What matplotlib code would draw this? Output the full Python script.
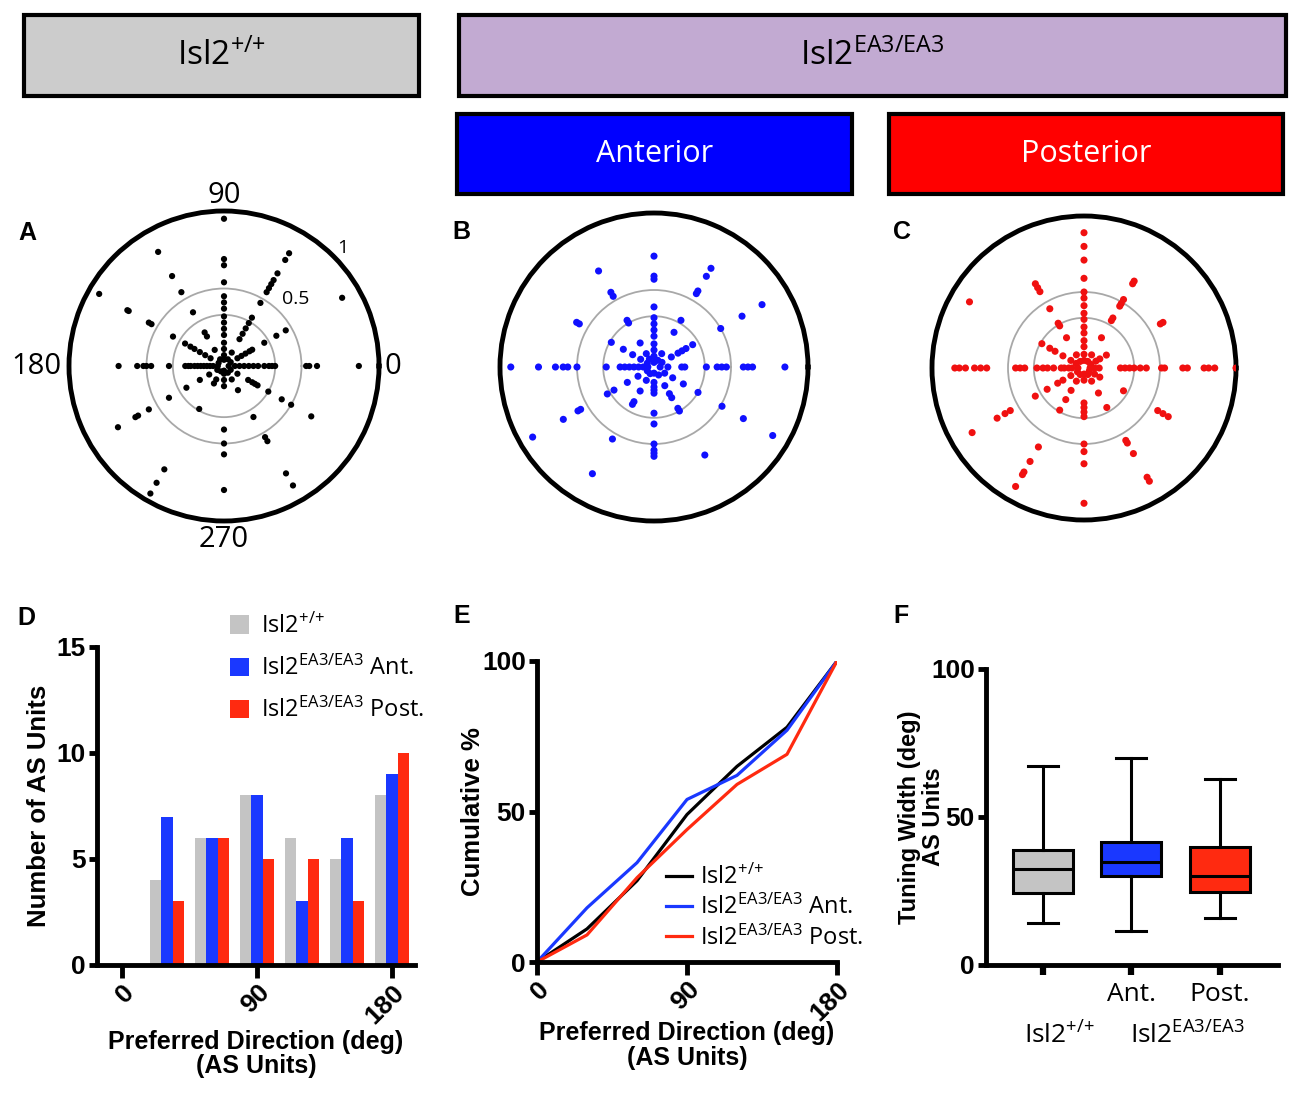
import numpy as np
import matplotlib
matplotlib.use('Agg')
from matplotlib import pyplot as plt  # noqa
from matplotlib.patches import Rectangle
import matplotlib.transforms as mtrans

W, H = 1300, 1097

GRAY = '#c4c4c4'
BLUE = '#1a38ff'
RED = '#ff2a10'

# polar plots: preferred direction (deg) -> normalised response radii
A_pts = {
    0: [0.03, 0.07, 0.1, 0.13, 0.16, 0.19, 0.22, 0.26, 0.29, 0.31, 0.33, 0.53, 0.55, 0.6, 0.87],
    30: [0.05, 0.1, 0.13, 0.16, 0.19, 0.21, 0.3, 0.39, 0.46, 0.88],
    60: [0.05, 0.1, 0.2, 0.24, 0.28, 0.32, 0.36, 0.47, 0.55, 0.58, 0.61, 0.64, 0.69, 0.79, 0.84],
    90: [0.04, 0.07, 0.11, 0.15, 0.2, 0.24, 0.28, 0.32, 0.37, 0.41, 0.45, 0.54, 0.65, 0.69, 0.95],
    120: [0.05, 0.12, 0.22, 0.25, 0.4, 0.55, 0.67, 0.85],
    150: [0.04, 0.1, 0.14, 0.18, 0.22, 0.25, 0.29, 0.38, 0.54, 0.56, 0.71, 0.72, 0.93],
    180: [0.04, 0.07, 0.09, 0.11, 0.13, 0.15, 0.17, 0.19, 0.215, 0.23, 0.25, 0.355, 0.47, 0.5, 0.52, 0.56, 0.68],
    210: [0.05, 0.11, 0.18, 0.28, 0.41, 0.56, 0.64, 0.66, 0.79],
    240: [0.04, 0.1, 0.13, 0.32, 0.77, 0.87, 0.95],
    270: [0.03, 0.05, 0.09, 0.13, 0.41, 0.5, 0.57, 0.8],
    300: [0.05, 0.1, 0.18, 0.38, 0.53, 0.56, 0.8, 0.89],
    330: [0.05, 0.1, 0.18, 0.21, 0.23, 0.25, 0.33, 0.43, 0.5, 0.65],
}
B_pts = {
    0: [0.04, 0.09, 0.18, 0.2, 0.34, 0.41, 0.44, 0.47, 0.58, 0.61, 0.64, 0.85],
    30: [0.06, 0.13, 0.18, 0.21, 0.24, 0.29, 0.5, 0.66, 0.81],
    60: [0.05, 0.1, 0.26, 0.35, 0.55, 0.57, 0.68, 0.74],
    90: [0.03, 0.07, 0.11, 0.15, 0.2, 0.24, 0.28, 0.32, 0.39, 0.57, 0.59, 0.72],
    120: [0.06, 0.1, 0.18, 0.33, 0.35, 0.53, 0.56, 0.72],
    150: [0.05, 0.1, 0.16, 0.23, 0.32, 0.56, 0.58],
    180: [0.04, 0.07, 0.1, 0.13, 0.16, 0.19, 0.22, 0.31, 0.5, 0.56, 0.59, 0.64, 0.75, 0.93],
    210: [0.05, 0.12, 0.2, 0.3, 0.35, 0.55, 0.57, 0.68, 0.91],
    240: [0.05, 0.1, 0.18, 0.26, 0.28, 0.54, 0.8],
    270: [0.04, 0.1, 0.13, 0.15, 0.17, 0.3, 0.37, 0.5, 0.54, 0.56, 0.58],
    300: [0.06, 0.14, 0.2, 0.23, 0.31, 0.33, 0.66],
    330: [0.08, 0.14, 0.22, 0.33, 0.51, 0.67, 0.89],
}
C_pts = {
    0: [0.04, 0.07, 0.1, 0.24, 0.27, 0.3, 0.33, 0.37, 0.41, 0.51, 0.53, 0.65, 0.68, 0.79, 0.82, 0.86, 1.0],
    30: [0.05, 0.09, 0.12, 0.17, 0.58, 0.6],
    60: [0.05, 0.1, 0.23, 0.36, 0.38, 0.47, 0.49, 0.52, 0.64, 0.66],
    90: [0.05, 0.09, 0.14, 0.18, 0.23, 0.27, 0.32, 0.36, 0.41, 0.46, 0.5, 0.59, 0.71, 0.8, 0.89],
    120: [0.05, 0.1, 0.23, 0.32, 0.34, 0.45, 0.58, 0.61, 0.64],
    150: [0.06, 0.1, 0.16, 0.22, 0.26, 0.32, 0.87],
    180: [0.04, 0.08, 0.1, 0.13, 0.15, 0.2, 0.24, 0.27, 0.31, 0.39, 0.42, 0.45, 0.64, 0.68, 0.72, 0.78, 0.82, 0.85],
    210: [0.05, 0.1, 0.16, 0.2, 0.28, 0.37, 0.56, 0.6, 0.66, 0.85],
    240: [0.05, 0.1, 0.17, 0.24, 0.32, 0.6, 0.71, 0.79, 0.81, 0.9],
    270: [0.04, 0.08, 0.23, 0.26, 0.29, 0.32, 0.5, 0.55, 0.63, 0.89],
    300: [0.05, 0.1, 0.19, 0.3, 0.55, 0.57, 0.65, 0.83, 0.86],
    330: [0.04, 0.08, 0.12, 0.3, 0.56, 0.6, 0.64],
}

# histogram (D)
DIRS = [30, 60, 90, 120, 150, 180]
wt_counts = [4, 6, 8, 6, 5, 8]
ant_counts = [7, 6, 8, 3, 6, 9]
post_counts = [3, 6, 5, 5, 3, 10]

# cumulative (E)
CUM_X = [0, 30, 60, 90, 120, 150, 180]
wt_cum = [0, 11, 27, 49, 65, 78, 100]
ant_cum = [0, 18, 33, 54, 62, 77, 100]
post_cum = [0, 9, 28, 44, 59, 69, 100]

# tuning width box plot (F)
F_whislo = [14.1, 11.5, 15.8]
F_q1 = [24.2, 30.1, 24.5]
F_med = [32.3, 34.9, 30.2]
F_q3 = [38.9, 41.4, 40.0]
F_whishi = [67.3, 69.8, 63.0]

WT_LAB = r'Isl2$^{{+}/{+}}$'
MUT_LAB = r'Isl2$^{EA3/EA3}$'

plt.rcParams['font.family'] = ['Liberation Sans', 'DejaVu Sans']
plt.rcParams['mathtext.fontset'] = 'custom'
plt.rcParams['mathtext.rm'] = 'Open Sans'
plt.rcParams['mathtext.it'] = 'Open Sans'
plt.rcParams['mathtext.default'] = 'regular'

SOFT = ['Open Sans', 'DejaVu Sans']

fig = plt.figure(figsize=(W / 100, H / 100), dpi=100)


def rect(x0, y0, x1, y1):
    return [x0 / W, 1 - y1 / H, (x1 - x0) / W, (y1 - y0) / H]


def header(x0, y0, x1, y1, fc, label, tc='black', size=24):
    fig.add_artist(Rectangle((x0 / W, 1 - y1 / H), (x1 - x0) / W, (y1 - y0) / H,
                             transform=fig.transFigure, fc=fc, ec='black', lw=3))
    fig.text((x0 + x1) / 2 / W, 1 - (y0 + y1) / 2 / H, label, color=tc,
             family=SOFT, fontsize=size, ha='center', va='center')


header(24, 15, 419, 96, '#cccccc', WT_LAB)
header(459, 15, 1286, 96, '#c2aad2', MUT_LAB)
header(457, 114, 852, 194, '#0000ff', 'Anterior', tc='white', size=22)
header(889, 114, 1283, 194, '#ff0000', 'Posterior', tc='white', size=22)

for lab, x, y in [('A', 18, 233), ('B', 452, 232), ('C', 893, 232),
                  ('D', 17, 618), ('E', 453, 616), ('F', 893, 616)]:
    fig.text(x / W, 1 - y / H, lab, fontsize=18, fontweight='bold', ha='left', va='center')


def polar(box, pts, color, size):
    ax = fig.add_axes(rect(*box), projection='polar')
    for ang, rs in pts.items():
        th = np.full(len(rs), np.deg2rad(ang))
        ax.scatter(th, rs, s=size, color=color, edgecolors='none', zorder=3)
    ax.set_ylim(0, 1)
    ax.set_xticks([])
    ax.set_yticks([0.33, 0.5])
    ax.set_yticklabels([])
    ax.yaxis.grid(True, color='#a8a8a8', lw=1.3)
    ax.spines['polar'].set_linewidth(3.5)
    return ax


axA = polar((69, 211, 379, 521), A_pts, 'black', 20)
polar((500, 213, 808, 521), B_pts, '#1010ff', 26)
polar((932, 216, 1236, 520), C_pts, '#f01010', 26)

for txt, ang, r, ha in [('90', 90, 1.1, 'center'), ('270', 270, 1.12, 'center'),
                        ('180', 180, 1.05, 'right'), ('0', 0, 1.035, 'left')]:
    axA.text(np.deg2rad(ang), r, txt, family=SOFT, fontsize=21, ha=ha, va='center',
             clip_on=False)
axA.text(np.deg2rad(45), 1.08, '1', family=SOFT, fontsize=14, ha='center', va='center',
         clip_on=False)
axA.text(np.deg2rad(43), 0.63, '0.5', family=SOFT, fontsize=14, ha='center', va='center')


def style_axes(ax):
    ax.spines[['top', 'right']].set_visible(False)
    for s in ('left', 'bottom'):
        ax.spines[s].set_linewidth(3.5)
    ax.tick_params(width=3.5, length=6, labelsize=19, pad=2)
    for t in ax.get_xticklabels() + ax.get_yticklabels():
        t.set_fontweight('bold')


# D histogram
axD = fig.add_axes(rect(97, 647, 415, 965))
bw = 7.5
x = np.array(DIRS)
axD.bar(x - bw, wt_counts, bw, color=GRAY, label=WT_LAB)
axD.bar(x, ant_counts, bw, color=BLUE, label=MUT_LAB + ' Ant.')
axD.bar(x + bw, post_counts, bw, color=RED, label=MUT_LAB + ' Post.')
axD.set_xlim(-16.7, 195.3)
axD.set_ylim(0, 15)
axD.set_yticks([0, 5, 10, 15])
axD.set_xticks([0, 90, 180])
style_axes(axD)
axD.tick_params(axis='x', length=9)
plt.setp(axD.get_xticklabels(), rotation=45, ha='right', va='top', rotation_mode='anchor')
axD.set_ylabel('Number of AS Units', fontsize=18.5, fontweight='bold', labelpad=4)
axD.set_xlabel('Preferred Direction (deg)\n(AS Units)', fontsize=18, fontweight='bold',
               labelpad=1, linespacing=1.0)
legD = axD.legend(loc='upper left', bbox_to_anchor=(0.39, 1.135), frameon=False,
                  prop={'family': SOFT, 'size': 17}, handlelength=0.8, handleheight=0.8,
                  handletextpad=0.5, labelspacing=0.72, borderaxespad=0)
for h in legD.legend_handles:
    h.set_edgecolor('none')

# E cumulative
axE = fig.add_axes(rect(537, 661, 837, 962))
axE.plot(CUM_X, wt_cum, color='black', lw=2.3, label=WT_LAB)
axE.plot(CUM_X, ant_cum, color=BLUE, lw=2.3, label=MUT_LAB + ' Ant.')
axE.plot(CUM_X, post_cum, color=RED, lw=2.3, label=MUT_LAB + ' Post.')
axE.set_xlim(0, 180)
axE.set_ylim(0, 100)
axE.set_xticks([0, 90, 180])
axE.set_yticks([0, 50, 100])
style_axes(axE)
axE.tick_params(axis='x', length=9)
plt.setp(axE.get_xticklabels(), rotation=45, ha='right', va='top', rotation_mode='anchor')
axE.set_ylabel('Cumulative %', fontsize=18.5, fontweight='bold', labelpad=-2)
axE.set_xlabel('Preferred Direction (deg)\n(AS Units)', fontsize=18, fontweight='bold',
               labelpad=-3, linespacing=1.05)
axE.legend(loc='upper left', bbox_to_anchor=(0.40, 0.355), frameon=False,
           prop={'family': SOFT, 'size': 17}, handlelength=1.1, handletextpad=0.3,
           labelspacing=0.22, borderaxespad=0)

# F box plot
axF = fig.add_axes(rect(986, 669, 1278, 965))
stats = []
for i in range(3):
    stats.append({'whislo': F_whislo[i], 'q1': F_q1[i], 'med': F_med[i],
                  'q3': F_q3[i], 'whishi': F_whishi[i], 'fliers': []})
bp = axF.bxp(stats, positions=[0, 1, 2], widths=0.68, capwidths=0.34,
             patch_artist=True, showfliers=False,
             boxprops=dict(lw=2.2, edgecolor='black'),
             medianprops=dict(color='black', lw=2.2),
             whiskerprops=dict(lw=2.2, color='black'),
             capprops=dict(lw=2.2, color='black'))
for patch, c in zip(bp['boxes'], [GRAY, BLUE, RED]):
    patch.set_facecolor(c)
axF.set_xlim(-0.64, 2.66)
axF.set_ylim(0, 100)
axF.set_yticks([0, 50, 100])
axF.set_xticks([0, 1, 2])
style_axes(axF)
axF.tick_params(axis='x', length=7, width=4.5, pad=5)
axF.set_xticklabels(['', 'Ant.', 'Post.'], family=SOFT, fontsize=19, fontweight='normal')
axF.set_ylabel('Tuning Width (deg)\nAS Units', fontsize=17, fontweight='bold',
               labelpad=-10, linespacing=1.05)
tr = mtrans.blended_transform_factory(axF.transData, axF.transAxes)
axF.text(0.19, -0.265, WT_LAB, transform=tr, family=SOFT, fontsize=19,
         ha='center', va='baseline')
axF.text(1.63, -0.265, MUT_LAB, transform=tr, family=SOFT, fontsize=19,
         ha='center', va='baseline')

fig.savefig('out.png', dpi=100)
